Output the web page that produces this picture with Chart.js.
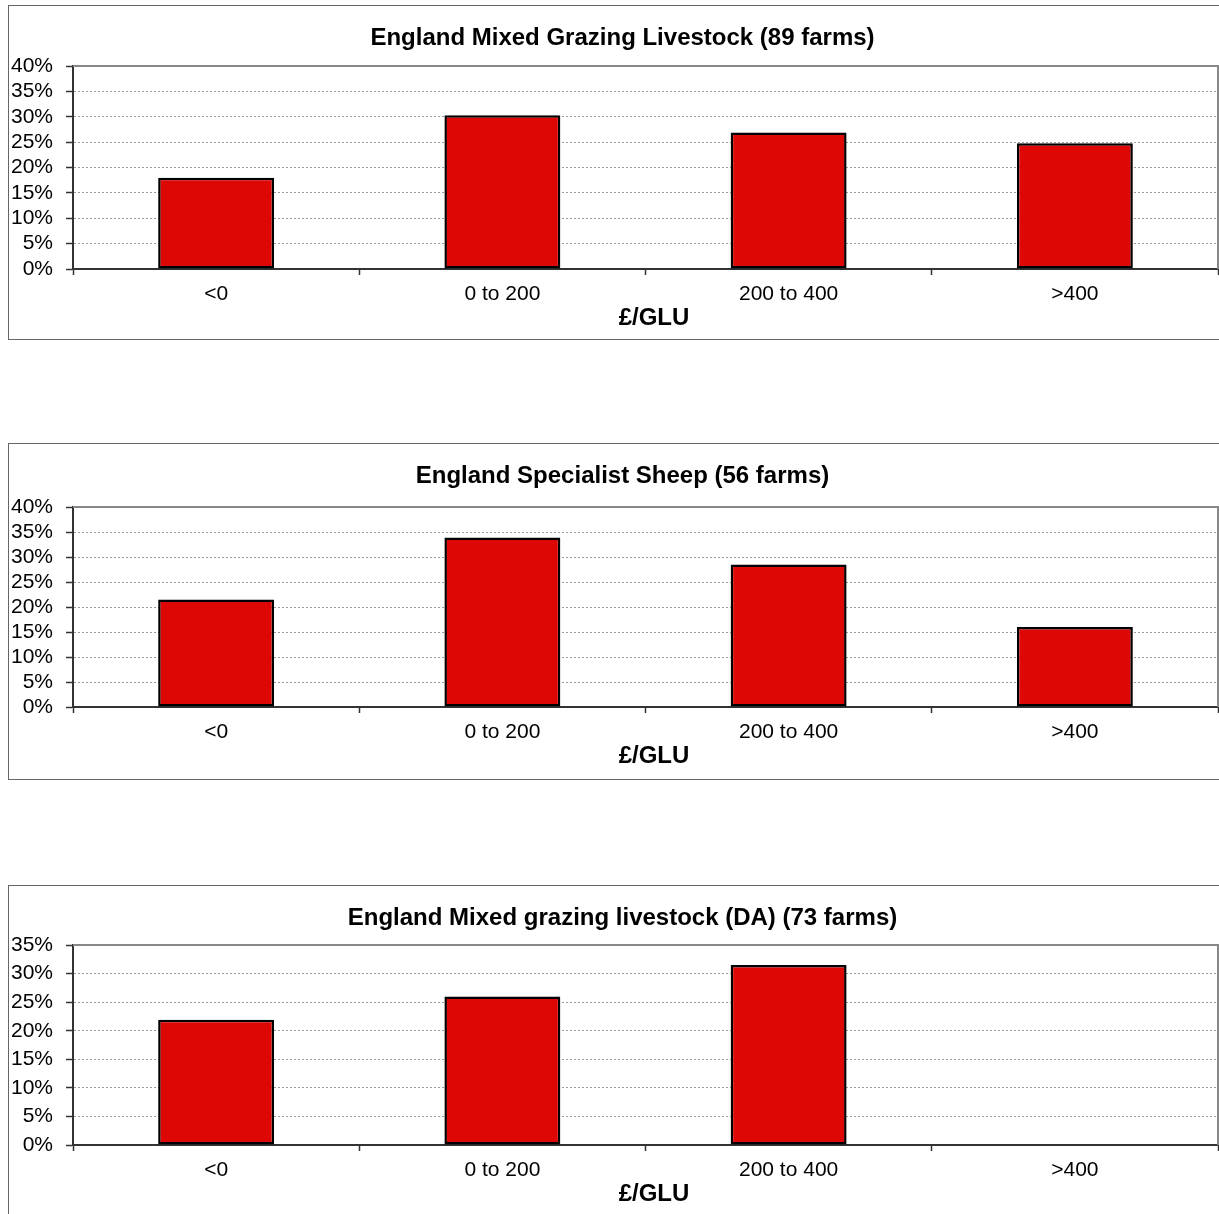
<!DOCTYPE html>
<html>
<head>
<meta charset="utf-8">
<script src="https://cdn.jsdelivr.net/npm/chart.js@4.4.1/dist/chart.umd.min.js"></script>
<style>
  html, body { margin: 0; padding: 0; background: #fff; overflow: hidden; }
  body { width: 1219px; height: 1214px; position: relative; }
  .box { position: absolute; left: 8px; width: 1250px; border: 1px solid #666; box-sizing: border-box; }
  .box canvas { position: absolute; left: 0; top: 0; }
</style>
</head>
<body>
<div class="box" id="box1"><canvas id="chart1"></canvas></div>
<div class="box" id="box2"><canvas id="chart2"></canvas></div>
<div class="box" id="box3"><canvas id="chart3"></canvas></div>
<script>
// DATA
const categories = ['<0', '0 to 200', '200 to 400', '>400'];
const mixedGrazing = [18.0, 30.3, 26.9, 24.8];
const specialistSheep = [21.5, 33.9, 28.5, 16.0];
const mixedGrazingDA = [21.9, 26.0, 31.5, 0];
const titles = [
  'England Mixed Grazing Livestock (89 farms)',
  'England Specialist Sheep (56 farms)',
  'England Mixed grazing livestock (DA) (73 farms)'
];
const yMax = [40, 40, 35];
const xTitle = '£/GLU';

const FONT = 'Liberation Sans, Arial, Helvetica, sans-serif';
const BAR_RED = '#DD0806';
const AXIS_DARK = '#333';

// page positions of each chart box
const layouts = [
  { boxTop: 5,   boxHeight: 335, titleY: 37,  plotTop: 66,  plotBottom: 269 },
  { boxTop: 443, boxHeight: 337, titleY: 475, plotTop: 507, plotBottom: 707 },
  { boxTop: 885, boxHeight: 340, titleY: 917, plotTop: 945, plotBottom: 1145 }
];
const TITLE_CENTER_X = 622.5 - 9; // canvas coords
const XTITLE_CENTER_X = 654 - 9;

// gray frame on top and right of the plot area
const plotFrame = {
  id: 'plotFrame',
  beforeDatasetsDraw(chart) {
    const { ctx, chartArea: a } = chart;
    ctx.save();
    ctx.strokeStyle = '#888';
    ctx.lineWidth = 2;
    ctx.beginPath();
    ctx.moveTo(a.left, a.top);
    ctx.lineTo(a.right, a.top);
    ctx.lineTo(a.right, a.bottom);
    ctx.stroke();
    ctx.restore();
  }
};

// chart title and axis title, placed like the original sheet
const boxTitles = {
  id: 'boxTitles',
  afterDraw(chart, args, opts) {
    const { ctx, chartArea: a } = chart;
    ctx.save();
    ctx.font = 'bold 24px ' + FONT;
    ctx.fillStyle = '#000';
    ctx.textAlign = 'center';
    ctx.textBaseline = 'middle';
    ctx.fillText(opts.text, TITLE_CENTER_X, opts.y);
    ctx.fillText(xTitle, XTITLE_CENTER_X, a.bottom + 49.5);
    ctx.restore();
  }
};

function makeChart(idx, values) {
  const L = layouts[idx];
  const box = document.getElementById('box' + (idx + 1));
  box.style.top = L.boxTop + 'px';
  box.style.height = L.boxHeight + 'px';

  const canvasTop = L.boxTop + 1;
  const canvasH = L.boxHeight - 2;
  const canvasW = 1246;
  const canvas = document.getElementById('chart' + (idx + 1));
  canvas.width = canvasW;
  canvas.height = canvasH;
  canvas.style.width = canvasW + 'px';
  canvas.style.height = canvasH + 'px';

  const xAxisH = 62;
  const bottomPad = canvasTop + canvasH - L.plotBottom - xAxisH;
  const rightPad = canvasW - (1218 - 9);

  return new Chart(canvas.getContext('2d'), {
    type: 'bar',
    data: {
      labels: categories,
      datasets: [{
        data: values,
        backgroundColor: BAR_RED,
        borderColor: '#000',
        borderWidth: 2.5,
        borderSkipped: false,
        categoryPercentage: 1.0,
        barPercentage: 0.405
      }]
    },
    options: {
      responsive: false,
      animation: false,
      layout: { padding: { left: 0, right: rightPad, top: L.plotTop - canvasTop, bottom: bottomPad } },
      plugins: {
        legend: { display: false },
        tooltip: { enabled: false },
        title: { display: false },
        boxTitles: { text: titles[idx], y: L.titleY - canvasTop + 1 }
      },
      scales: {
        x: {
          afterFit: s => { s.height = xAxisH; },
          grid: {
            offset: true,
            drawOnChartArea: false,
            drawTicks: true,
            tickLength: 6,
            tickColor: AXIS_DARK,
            tickWidth: 1.5
          },
          border: { color: AXIS_DARK, width: 2 },
          ticks: {
            color: '#000',
            padding: 7,
            maxRotation: 0,
            autoSkip: false,
            font: { family: FONT, size: 21 }
          },
          title: { display: false }
        },
        y: {
          min: 0,
          max: yMax[idx],
          afterFit: s => { s.width = 64; },
          grid: {
            color: '#9a9a9a',
            lineWidth: 1,
            drawTicks: true,
            tickLength: 7,
            tickColor: AXIS_DARK,
            tickWidth: 1.5,
            tickBorderDash: []
          },
          border: { color: AXIS_DARK, width: 2, dash: [2, 2] },
          ticks: {
            stepSize: 5,
            autoSkip: false,
            color: '#000',
            padding: 13,
            font: { family: FONT, size: 21 },
            callback: v => v + '%'
          }
        }
      }
    },
    plugins: [plotFrame, boxTitles]
  });
}

makeChart(0, mixedGrazing);
makeChart(1, specialistSheep);
makeChart(2, mixedGrazingDA);
</script>
</body>
</html>
